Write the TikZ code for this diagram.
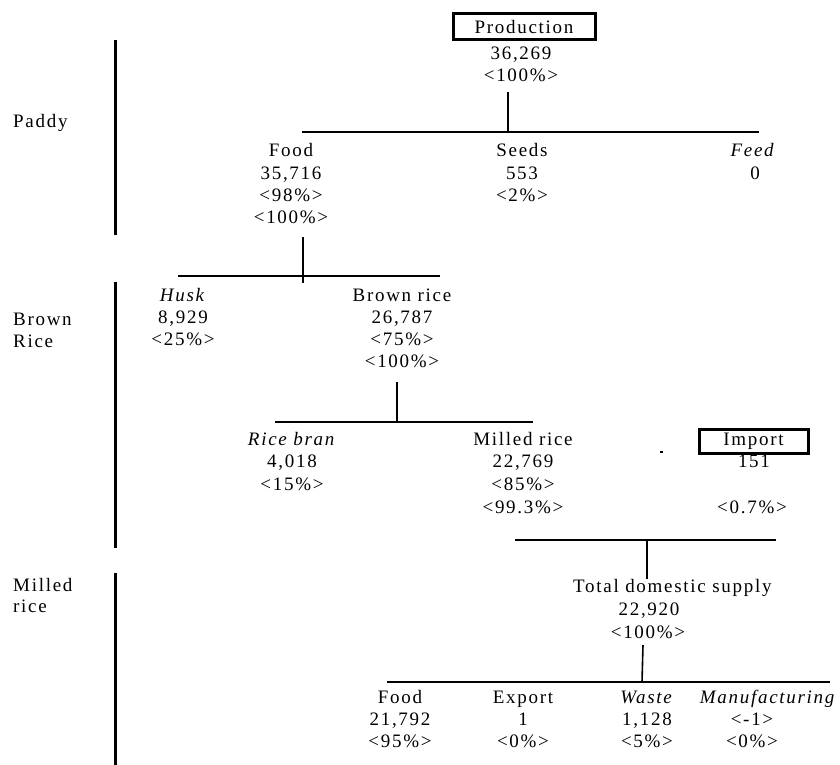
\documentclass[tikz,border=0pt]{standalone}
\usepackage{fontspec}
\setmainfont{Liberation Serif}[LetterSpace=9]
\begin{document}
\begin{tikzpicture}[x=1pt,y=-1pt,
  every node/.style={inner sep=0pt, font=\fontsize{19}{22}\selectfont},
  txt/.style={anchor=base},
  side/.style={anchor=base west},
  boxed/.style={draw, line width=3pt, minimum width=142pt, minimum height=26pt},
  conn/.style={line width=1.6pt},
  stage/.style={line width=3pt}]
\useasboundingbox (0,0) rectangle (840,765);

% stage markers on the left
\node[side] (paddy) at (13,128) {Paddy};
\node[side] (brown) at (13,325) {Brown};
\node[side] (brice) at (13,347) {Rice};
\node[side] (milled) at (13,591) {Milled};
\node[side] (mrice) at (13,612) {rice};
\draw[stage] (115,40) -- (115,235);
\draw[stage] (115,282) -- (115,548);
\draw[stage] (115,573) -- (115,765);

% production
\node[boxed] (prod) at (524,27) {Production};
\node[txt] (prodqty) at (521,60) {36,269};
\node[txt] (prodpct) at (521,82) {<100\%>};

% paddy use
\node[txt] (food) at (291,157) {Food};
\node[txt] (foodqty) at (291,179) {35,716};
\node[txt] (foodpct) at (291,201) {<98\%>};
\node[txt] (foodall) at (291,223) {<100\%>};
\node[txt] (seeds) at (522,157) {Seeds};
\node[txt] (seedsqty) at (522,179) {553};
\node[txt] (seedspct) at (522,201) {<2\%>};
\node[txt] (feed) at (753,157) {\textit{Feed}};
\node[txt] (feedqty) at (755,179) {0};

% brown rice stage
\node[txt] (husk) at (183,301.5) {\textit{Husk}};
\node[txt] (huskqty) at (183,323.5) {8,929};
\node[txt] (huskpct) at (183,345.5) {<25\%>};
\node[txt] (brr) at (402,301.5) {Brown rice};
\node[txt] (brrqty) at (402,323.5) {26,787};
\node[txt] (brrpct) at (402,345.5) {<75\%>};
\node[txt] (brrall) at (402,367.5) {<100\%>};

% milled rice stage
\node[txt] (bran) at (292,445) {\textit{Rice bran}};
\node[txt] (branqty) at (292,467) {4,018};
\node[txt] (branpct) at (292,490) {<15\%>};
\node[txt] (mill) at (523,445) {Milled rice};
\node[txt] (millqty) at (523,467) {22,769};
\node[txt] (millpct) at (523,490) {<85\%>};
\node[txt] (millsh) at (523,513) {<99.3\%>};
\node[fill=black, minimum width=3pt, minimum height=1.6pt] (tick) at (661,452) {};
\node[boxed, minimum width=109pt, minimum height=24pt] (imp) at (753.5,441) {Import};
\node[txt] (impqty) at (754,467) {151};
\node[txt] (impsh) at (752,513) {<0.7\%>};

\node[side] (tds) at (573,592) {Total domestic supply};
\node[txt] (tdsqty) at (649,615) {22,920};
\node[txt] (tdspct) at (648,638) {<100\%>};

% uses of milled rice
\node[txt] (ufood) at (400,703) {Food};
\node[txt] (ufoodqty) at (400,725) {21,792};
\node[txt] (ufoodpct) at (400,747) {<95\%>};
\node[txt] (exp) at (523,703) {Export};
\node[txt] (expqty) at (523,725) {1};
\node[txt] (exppct) at (523,747) {<0\%>};
\node[txt] (waste) at (647,703) {\textit{Waste}};
\node[txt] (wasteqty) at (647,725) {1,128};
\node[txt] (wastepct) at (647,747) {<5\%>};
\node[txt] (manu) at (768,703) {\textit{Manufacturing}};
\node[txt] (manuqty) at (752,725) {<-1>};
\node[txt] (manupct) at (752,747) {<0\%>};

% tree connectors
\coordinate (prodstem) at (508,92);
\coordinate (splitA) at (508,132);
\coordinate (splitAl) at (302,132);
\coordinate (splitAr) at (759,132);
\draw[conn] (prodstem) -- (splitA);
\draw[conn] (splitAl) -- (splitAr);

\coordinate (foodstem) at (303,237);
\coordinate (foodend) at (303,283);
\coordinate (splitBl) at (178,276);
\coordinate (splitBr) at (440,276);
\draw[conn] (foodstem) -- (foodend);
\draw[conn] (splitBl) -- (splitBr);

\coordinate (brrstem) at (397,382);
\coordinate (splitC) at (397,422);
\coordinate (splitCl) at (275,422);
\coordinate (splitCr) at (533,422);
\draw[conn] (brrstem) -- (splitC);
\draw[conn] (splitCl) -- (splitCr);

\coordinate (joinDl) at (515,540);
\coordinate (joinDr) at (776,540);
\coordinate (joinD) at (647,540);
\coordinate (tdstop) at (647,579);
\draw[conn] (joinDl) -- (joinDr);
\draw[conn] (joinD) -- (tdstop);

\coordinate (tdsstem) at (643,645);
\coordinate (splitE) at (642,682);
\coordinate (splitEl) at (387,682);
\coordinate (splitEr) at (830,682);
\draw[conn] (tdsstem) -- (splitE);
\draw[conn] (splitEl) -- (splitEr);
\end{tikzpicture}
\end{document}
